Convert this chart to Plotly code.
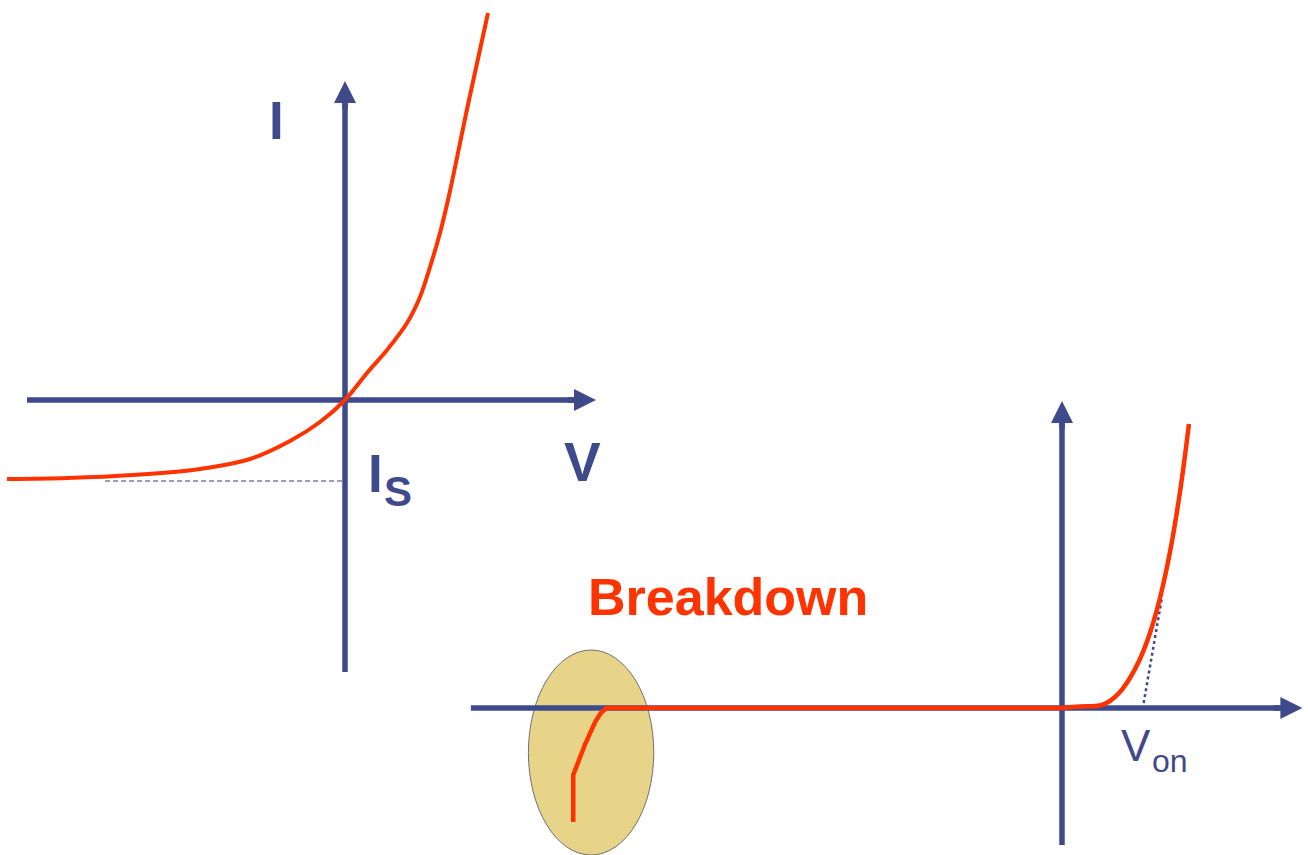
import plotly.graph_objects as go

W, H = 1308, 855

# ---------------- data ----------------
# Left diagram: ideal diode I-V curve (arbitrary units)
left_v = [-3.38, -2.78, -2.12, -1.45, -0.95, -0.55, -0.25, 0.0, 0.22, 0.42, 0.62, 0.75, 0.85, 0.95, 1.03, 1.24, 1.43]
left_i = [-0.79, -0.78, -0.75, -0.69, -0.59, -0.41, -0.22, 0.0, 0.27, 0.50, 0.77, 1.03, 1.33, 1.67, 2.00, 3.00, 3.87]
is_level = -0.81              # saturation current level
is_line_v = [-2.40, 0.0]      # extent of dashed Is guide
left_axis_v = [-3.18, 2.51]   # horizontal axis start / arrow tip
left_axis_i = [-2.72, 3.19]   # vertical axis start / arrow tip

# Right diagram: real diode with breakdown (arbitrary units)
bd_v = [-4.25, -4.25, -4.15, -4.06, -4.01, -3.96, 0.0]
bd_i = [-1.14, -0.67, -0.37, -0.14, -0.05, 0.0, 0.0]
fw_v = [0.0, 0.157, 0.330, 0.417, 0.504, 0.591, 0.678, 0.765, 0.852, 0.939, 1.026, 1.104]
fw_i = [0.0, 0.015, 0.025, 0.07, 0.16, 0.30, 0.49, 0.75, 1.10, 1.56, 2.16, 2.84]
tangent_v = [0.71, 0.87]
tangent_i = [0.05, 1.11]
right_axis_v = [-5.14, 2.09]
right_axis_i = [-1.37, 3.07]
breakdown_zone_v = [-4.64, -3.55]
breakdown_zone_i = [-1.47, 0.58]

# ---------------- styling ----------------
BLUE = "#3F4A8C"
RED = "#FF3300"
FONT = "Liberation Sans, Arial, sans-serif"

# scales (pixels per unit) used only for axis ranges / arrow geometry
LX, LY = 100.0, 100.0
RX, RY = 115.0, 100.0

fig = go.Figure()

# axis lines (drawn first so curves sit above them)
head = 16
fig.add_trace(go.Scatter(x=[left_axis_v[0], left_axis_v[1] - head / LX], y=[0, 0],
                         mode="lines", line=dict(color=BLUE, width=5.5), xaxis="x", yaxis="y"))
fig.add_trace(go.Scatter(x=[0, 0], y=[left_axis_i[0], left_axis_i[1] - head / LY],
                         mode="lines", line=dict(color=BLUE, width=5.5), xaxis="x", yaxis="y"))
fig.add_trace(go.Scatter(x=[right_axis_v[0], right_axis_v[1] - head / RX], y=[0, 0],
                         mode="lines", line=dict(color=BLUE, width=5.5), xaxis="x2", yaxis="y2"))
fig.add_trace(go.Scatter(x=[0, 0], y=[right_axis_i[0], right_axis_i[1] - head / RY],
                         mode="lines", line=dict(color=BLUE, width=5.5), xaxis="x2", yaxis="y2"))

# Is dashed guide
fig.add_trace(go.Scatter(x=is_line_v, y=[is_level, is_level], mode="lines",
                         line=dict(color="#7A80A6", width=1.5, dash="5px,3px"),
                         xaxis="x", yaxis="y"))

# left curve
fig.add_trace(go.Scatter(x=left_v, y=left_i, mode="lines",
                         line=dict(color=RED, width=4, shape="spline", smoothing=0.9),
                         xaxis="x", yaxis="y"))

# right: tangent (dotted)
fig.add_trace(go.Scatter(x=tangent_v, y=tangent_i, mode="lines",
                         line=dict(color=BLUE, width=2.5, dash="dot"),
                         xaxis="x2", yaxis="y2"))
# right: breakdown + reverse region
fig.add_trace(go.Scatter(x=bd_v, y=bd_i, mode="lines",
                         line=dict(color=RED, width=4.5),
                         xaxis="x2", yaxis="y2"))
# right: forward region
fig.add_trace(go.Scatter(x=fw_v, y=fw_i, mode="lines",
                         line=dict(color=RED, width=4.5, shape="spline", smoothing=1.0),
                         xaxis="x2", yaxis="y2"))

# breakdown highlight ellipse
fig.add_shape(type="circle", xref="x2", yref="y2",
              x0=breakdown_zone_v[0], x1=breakdown_zone_v[1],
              y0=breakdown_zone_i[0], y1=breakdown_zone_i[1],
              fillcolor="#E8D488", line=dict(color="#707070", width=1), layer="below")

# arrowheads
def arrow(xref, yref, x, y, ax, ay):
    fig.add_annotation(x=x, y=y, ax=ax, ay=ay, xref=xref, yref=yref, axref=xref, ayref=yref,
                       text="", showarrow=True, arrowhead=2, arrowsize=0.8, arrowwidth=5.5,
                       arrowcolor=BLUE, standoff=0, startstandoff=0)

arrow("x", "y", left_axis_v[1], 0, left_axis_v[1] - 30 / LX, 0)
arrow("x", "y", 0, left_axis_i[1], 0, left_axis_i[1] - 30 / LY)
arrow("x2", "y2", right_axis_v[1], 0, right_axis_v[1] - 30 / RX, 0)
arrow("x2", "y2", 0, right_axis_i[1], 0, right_axis_i[1] - 30 / RY)

# text labels
def px(x):
    return x / W

def py(y):
    return 1 - y / H

def label(text, x, y, size, color=BLUE, bold=True):
    fig.add_annotation(x=px(x), y=py(y), xref="paper", yref="paper",
                       text=f"<b>{text}</b>" if bold else text,
                       showarrow=False, xanchor="center", yanchor="middle",
                       font=dict(family=FONT, size=size, color=color))

label("I", 276.5, 120, 53)
label("V", 582.5, 462, 55)
label("I", 375, 474, 53)
label("S", 398, 491, 42)
label("Breakdown", 728, 597, 52, color=RED)
label("V", 1136, 745, 44, bold=False)
label("on", 1170, 761, 32, bold=False)

fig.update_layout(
    width=W, height=H,
    margin=dict(l=0, r=0, t=0, b=0),
    paper_bgcolor="white", plot_bgcolor="white",
    showlegend=False,
    xaxis=dict(domain=[0, 1], range=[-345 / LX, (W - 345) / LX], visible=False, fixedrange=True),
    yaxis=dict(domain=[0, 1], range=[-(H - 400) / LY, 400 / LY], visible=False, fixedrange=True),
    xaxis2=dict(domain=[0, 1], range=[-1062 / RX, (W - 1062) / RX], visible=False,
                overlaying="x", anchor="y2", fixedrange=True),
    yaxis2=dict(domain=[0, 1], range=[-(H - 708) / RY, 708 / RY], visible=False,
                overlaying="y", anchor="x2", fixedrange=True),
)

fig.write_html("out.html", config={"displayModeBar": False},
               post_script="document.body.style.margin='0px';document.body.style.overflow='hidden';")
